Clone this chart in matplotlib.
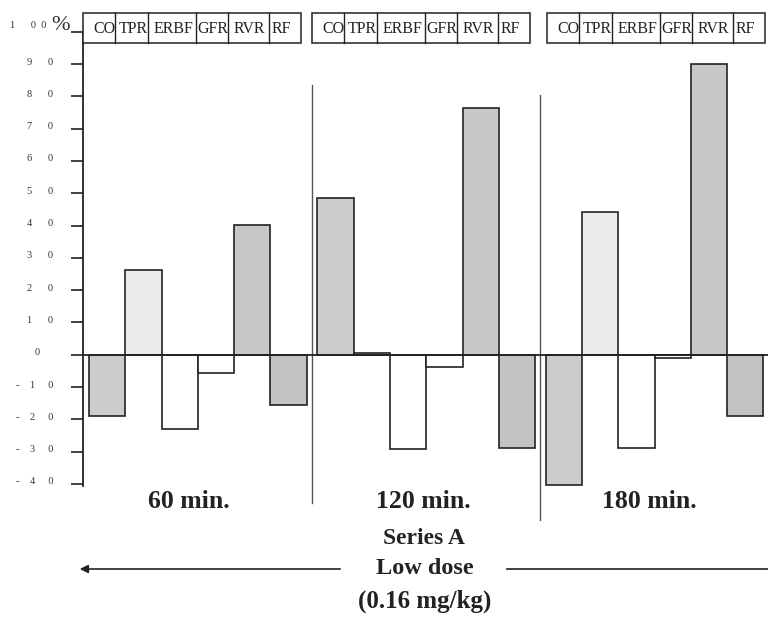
import matplotlib
matplotlib.use("Agg")
import matplotlib.pyplot as plt
from matplotlib.patches import Rectangle
from matplotlib.transforms import ScaledTranslation

# ---------------- data ----------------
metrics = ["CO", "TPR", "ERBF", "GFR", "RVR", "RF"]
times = ["60 min.", "120 min.", "180 min."]
values_60 = [-19.0, 26.4, -22.9, -5.6, 40.2, -15.5]
values_120 = [48.5, 0.5, -29.3, -3.8, 76.3, -29.0]
values_180 = [-40.2, 44.1, -28.8, -0.9, 89.9, -19.0]
series = [values_60, values_120, values_180]
yticks = [-40, -30, -20, -10, 0, 10, 20, 30, 40, 50, 60, 70, 80, 90, 100]
caption = ["Series A", "Low dose", "(0.16 mg/kg)"]

# ---------------- style ----------------
colors = ["#cccccc", "#ebebeb", "#ffffff", "#ffffff", "#c8c8c8", "#c3c3c3"]
SERIF = ["Liberation Serif", "DejaVu Serif"]
INK = "#222222"

W, H = 768, 617
fig = plt.figure(figsize=(W / 100, H / 100), dpi=100)
fig.patch.set_facecolor("white")

# main axes (pixel geometry)
ax_left, ax_right = 83, 768
ax_top, ax_bot = 31.8, 485.6
ax = fig.add_axes([ax_left / W, (H - ax_bot) / H,
                   (ax_right - ax_left) / W, (ax_bot - ax_top) / H])
bar_px = 36.3
ax.set_xlim(0, (ax_right - ax_left) / bar_px)
ax.set_ylim(-40.5, 100)

start0, pitch = 0.165, 6.29
for g, vals in enumerate(series):
    xs = [start0 + g * pitch + i for i in range(len(metrics))]
    ax.bar(xs, vals, width=1.0, align="edge", color=colors,
           edgecolor=INK, linewidth=1.2, zorder=3)

ax.axhline(0, color=INK, lw=1.3, zorder=4)

# group separators
sep_specs = [(6.31, 83.6, -46), (12.6, 80.5, -51)]
for xs_, y1, y2 in sep_specs:
    ax.plot([xs_, xs_], [y1, y2], color="#555555", lw=1.0, clip_on=False, zorder=2)

for s in ["top", "right", "bottom"]:
    ax.spines[s].set_visible(False)
ax.spines["left"].set_color(INK)
ax.spines["left"].set_linewidth(1.3)
ax.set_xticks([])
ax.set_yticks(yticks)
labels = []
for t in yticks:
    if t == 100:
        labels.append("")
    elif t == 0:
        labels.append("0" + " " * 5)
    elif t < 0:
        s = str(-t)
        labels.append("-" + " " * 4 + s[0] + " " * 5 + s[1])
    else:
        s = str(t)
        labels.append(s[0] + " " * 6 + s[1])
ax.set_yticklabels(labels, fontfamily=SERIF, fontsize=7.5, color="#333333")
ax.tick_params(axis="y", direction="out", length=8.6, width=1.2, color=INK, pad=13)
shift = ScaledTranslation(0, 3 / 100, fig.dpi_scale_trans)
for lab in ax.get_yticklabels():
    lab.set_transform(lab.get_transform() + shift)

# ---------------- overlay (pixel coords) ----------------
ov = fig.add_axes([0, 0, 1, 1], zorder=10)
ov.set_xlim(0, W)
ov.set_ylim(H, 0)
ov.axis("off")

# header boxes
box_lefts = [82.7, 311.7, 546.7]
cell_w = [32, 33, 48.5, 32, 40.5, 32]
text_off = [11, 4, 6, 1, 5, 3]
box_top, box_bot = 12.7, 43.0
for bl in box_lefts:
    total = sum(cell_w)
    ov.add_patch(Rectangle((bl, box_top), total, box_bot - box_top,
                           facecolor="white", edgecolor="none", zorder=1))
    x = bl
    for m, cw, off in zip(metrics, cell_w, text_off):
        ov.text(x + off, (box_top + box_bot) / 2 + 1, m, fontfamily=SERIF,
                fontsize=11.5, color=INK, ha="left", va="center", zorder=2)
        x += cw
    ov.add_patch(Rectangle((bl, box_top), total, box_bot - box_top,
                           facecolor="none", edgecolor=INK, lw=1.1, zorder=3))
    x = bl
    for cw in cell_w[:-1]:
        x += cw
        ov.plot([x, x], [box_top, box_bot], color=INK, lw=1.0, zorder=3)

# 100 % label
ov.text(46, 26, "1" + " " * 6 + "0" + " " * 2 + "0", fontfamily=SERIF, fontsize=7.5,
        color="#333333", ha="right", va="center")
ov.text(60, 25, "%", fontfamily=SERIF, fontsize=16, color="#333333",
        ha="center", va="center")

# time labels
for t, cx in zip(times, [189, 423, 649]):
    ov.text(cx, 502, t, fontfamily=SERIF, fontsize=18.5, fontweight="bold",
            color=INK, ha="center", va="center")

# caption
cap_pos = [(424, 538, 17), (425, 569, 17.5), (425, 601, 18)]
for txt, (cx, cy, fs) in zip(caption, cap_pos):
    ov.text(cx, cy, txt, fontfamily=SERIF, fontsize=fs, fontweight="bold",
            color=INK, ha="center", va="center")

# arrow and right line
ov.annotate("", xy=(77, 569), xytext=(343, 569),
            arrowprops=dict(arrowstyle="-|>", color=INK, lw=1.2, mutation_scale=12))
ov.plot([507, 768], [569, 569], color=INK, lw=1.2)

fig.savefig("out.png", dpi=100, facecolor="white")
